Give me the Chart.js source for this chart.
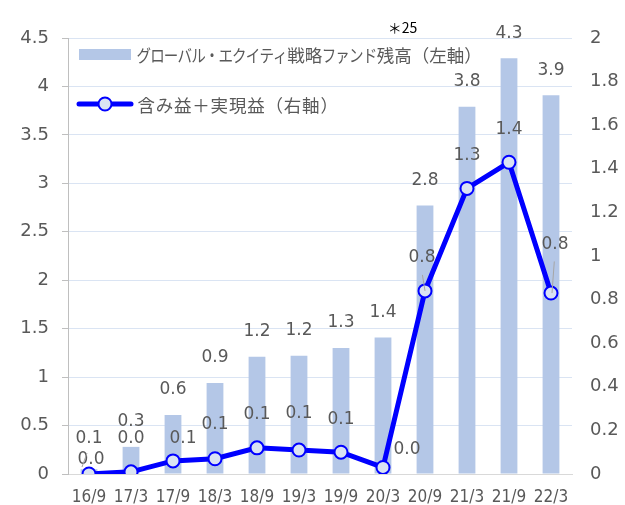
<!DOCTYPE html>
<html><head><meta charset="utf-8">
<script src="https://cdn.jsdelivr.net/npm/chart.js@4/dist/chart.umd.min.js"></script>
<style>html,body{margin:0;padding:0;background:#fff}#wrap{width:625px;height:505px}</style>
</head><body><div id="wrap"><canvas id="c" width="625" height="505"></canvas></div>
<script>
const categories = ['16/9','17/3','17/9','18/3','18/9','19/3','19/9','20/3','20/9','21/3','21/9','22/3'];
const fundBalance = [0.05,0.28,0.61,0.94,1.21,1.22,1.30,1.41,2.77,3.79,4.29,3.91];
const gains = [0.00,0.01,0.06,0.07,0.12,0.11,0.10,0.03,0.84,1.31,1.43,0.83];
const leftTicks = ['0','0.5','1','1.5','2','2.5','3','3.5','4','4.5'];
const rightTicks = ['0','0.2','0.4','0.6','0.8','1','1.2','1.4','1.6','1.8','2'];
const seriesNames = ['グローバル・エクイティ戦略ファンド残高（左軸）','含み益＋実現益（右軸）'];
const noteText = '＊25';

const GRAY = '#595959';
const BAR = '#B4C7E7';
const LINE = '#0000FF';
const MARK = '#DAE3F3';
const NUM_FONT = "'DejaVu Sans', sans-serif";
const COND_FONT = "'DejaVu Sans Condensed', 'Liberation Sans', sans-serif";
const JP_FONT = "'Noto Sans CJK JP', sans-serif";

const lineLabelOffsets = [[2,-14],[0,-33],[10,-22],[0,-34],[0,-33],[0,-36],[0,-33],[24,-18],[-3,-33],[0,-33],[0,-33],[4,-48]];
const leaders = {0:[[-2,-21],[-7,-7]], 8:[[-2.6,-16],[0,0]], 11:[[3.3,-31.6],[1,0]]};

// draw Japanese text with proportional (narrower) kana, like the original's UI font
function drawJP(ctx, text, x, y, adv, kanaRatio) {
  ctx.textAlign = 'center';
  let cx = x;
  for (const ch of text) {
    const code = ch.codePointAt(0);
    const isKana = code >= 0x30A0 && code <= 0x30FF;
    const w = isKana ? adv * kanaRatio : adv;
    if (isKana && kanaRatio < 1) {
      ctx.save();
      ctx.translate(cx + w / 2, y);
      ctx.scale(Math.min(1, kanaRatio + 0.05), 1);
      ctx.fillText(ch, 0, 0);
      ctx.restore();
    } else {
      ctx.fillText(ch, cx + w / 2, y);
    }
    cx += w;
  }
}

const labelPlugin = {
  id: 'labels',
  afterDatasetsDraw(chart) {
    const ctx = chart.ctx;
    ctx.save();
    ctx.font = '17px ' + NUM_FONT;
    ctx.fillStyle = GRAY;
    ctx.textAlign = 'center';
    ctx.textBaseline = 'middle';
    const barMeta = chart.getDatasetMeta(0);
    barMeta.data.forEach((el, i) => {
      const dy = i === 0 ? -31 : -25;
      ctx.fillText(fundBalance[i].toFixed(1), el.x, el.y + dy);
    });
    const lineMeta = chart.getDatasetMeta(1);
    ctx.strokeStyle = '#A6A6A6';
    ctx.lineWidth = 1;
    lineMeta.data.forEach((el, i) => {
      const o = lineLabelOffsets[i];
      ctx.fillText(gains[i].toFixed(1), el.x + o[0], el.y + o[1]);
      if (leaders[i]) {
        const l = leaders[i];
        ctx.beginPath();
        ctx.moveTo(el.x + l[0][0], el.y + l[0][1]);
        ctx.lineTo(el.x + l[1][0], el.y + l[1][1]);
        ctx.stroke();
      }
    });
    // annotation
    const xs = chart.scales.x;
    const ax = (xs.getPixelForValue(7) + xs.getPixelForValue(8)) / 2 - 1.5;
    ctx.font = '14px ' + JP_FONT;
    ctx.fillStyle = '#000000';
    ctx.fillText(noteText, ax, chart.chartArea.top - 10);
    ctx.restore();
  },
  afterDraw(chart) {
    const ctx = chart.ctx;
    const ca = chart.chartArea;
    ctx.save();
    ctx.fillStyle = BAR;
    ctx.fillRect(ca.left + 11, ca.top + 11, 52, 11);
    ctx.strokeStyle = LINE;
    ctx.lineWidth = 5;
    ctx.lineCap = 'round';
    ctx.beginPath();
    ctx.moveTo(ca.left + 11, ca.top + 66);
    ctx.lineTo(ca.left + 63, ca.top + 66);
    ctx.stroke();
    ctx.beginPath();
    ctx.arc(ca.left + 37, ca.top + 66, 6.5, 0, Math.PI * 2);
    ctx.fillStyle = MARK;
    ctx.fill();
    ctx.lineWidth = 2;
    ctx.stroke();
    ctx.font = '17.5px ' + JP_FONT;
    ctx.fillStyle = GRAY;
    ctx.textBaseline = 'middle';
    drawJP(ctx, seriesNames[0], ca.left + 69, ca.top + 17, 17.5, 0.78);
    drawJP(ctx, seriesNames[1], ca.left + 69, ca.top + 67, 18.3, 1.0);
    ctx.restore();
  }
};

Chart.defaults.font.family = NUM_FONT;
Chart.defaults.color = GRAY;

new Chart(document.getElementById('c'), {
  data: {
    labels: categories,
    datasets: [
      { type: 'bar', label: seriesNames[0], data: fundBalance, yAxisID: 'y',
        backgroundColor: BAR, barPercentage: 0.4, categoryPercentage: 1.0, order: 2 },
      { type: 'line', label: seriesNames[1], data: gains, yAxisID: 'y1',
        borderColor: LINE, borderWidth: 5, pointRadius: 6.5, pointBorderWidth: 2,
        pointBackgroundColor: MARK, pointBorderColor: LINE, tension: 0, order: 1 }
    ]
  },
  options: {
    responsive: false,
    animation: false,
    layout: { padding: { top: 38, left: 0, right: 0, bottom: 0 } },
    plugins: { legend: { display: false }, tooltip: { enabled: false } },
    scales: {
      x: {
        grid: { display: false, drawTicks: false },
        border: { display: true, color: '#D9D9D9', width: 1 },
        ticks: { font: { size: 17, family: COND_FONT }, padding: 13, color: GRAY, maxRotation: 0, autoSkip: false },
        afterFit(s) { s.height = 31; }
      },
      y: {
        position: 'left', min: 0, max: 4.5,
        grid: { color: '#DAE4F3', drawTicks: true, tickLength: 6, tickColor: '#BFBFBF' },
        border: { display: true, color: '#BFBFBF', width: 1 },
        ticks: { stepSize: 0.5, font: { size: 18 }, padding: 13, color: GRAY,
                 callback: (v, i) => leftTicks[i] },
        afterFit(s) { s.width = 68; }
      },
      y1: {
        position: 'right', min: 0, max: 2,
        grid: { display: false, drawTicks: false },
        border: { display: false },
        ticks: { stepSize: 0.2, font: { size: 18 }, padding: 18, color: GRAY,
                 callback: (v, i) => rightTicks[i] },
        afterFit(s) { s.width = 53; }
      }
    }
  },
  plugins: [labelPlugin]
});
</script>
</body></html>
